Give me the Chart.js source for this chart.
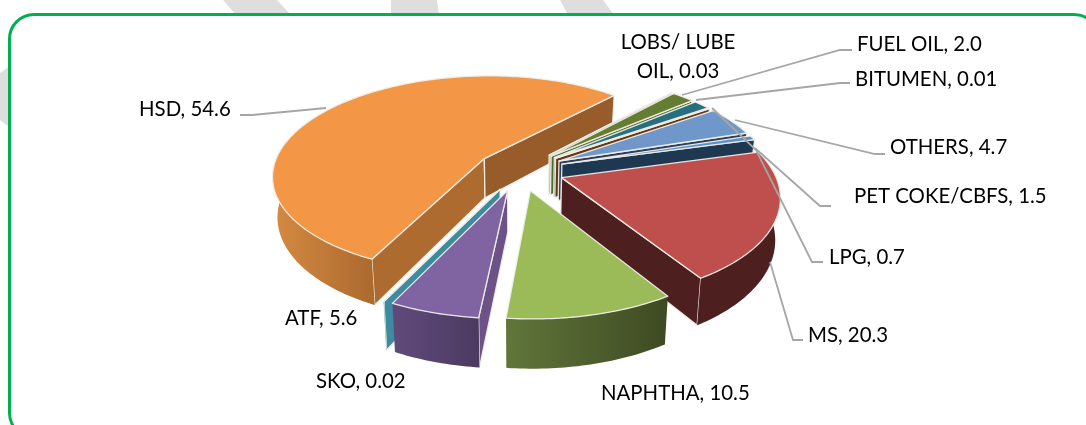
<!DOCTYPE html>
<html>
<head>
<meta charset="utf-8">
<style>
html,body{margin:0;padding:0;background:#fff;overflow:hidden}
#stage{position:relative;width:1086px;height:425px;overflow:hidden;background:#fff}
#bg{position:absolute;left:0;top:0}
#frame{position:absolute;left:8px;top:13px;width:1086px;height:420px;border:3.5px solid #00B050;border-radius:26px;background:#fff;box-sizing:content-box}
#wrap{position:absolute;left:0;top:0;width:1086px;height:425px}
</style>
</head>
<body>
<div id="stage">
<svg id="bg" width="1086" height="425">
<g fill="#DEDEDE">
<polygon points="223,0 277,0 291,15 236,15"/>
<polygon points="391,0 437,0 439,15 391,15"/>
<polygon points="560,0 603,0 614,15 568,15"/>
<polygon points="0,73 10,66 10,128 0,120"/>
</g>
</svg>
<div id="frame"></div>
<div id="wrap"><canvas id="c" width="1086" height="425"></canvas></div>
</div>
<script src="https://cdn.jsdelivr.net/npm/chart.js@4"></script>
<script>
const categories = ['HSD','LOBS/ LUBE OIL','FUEL OIL','PET COKE/CBFS','BITUMEN','OTHERS','LPG','MS','NAPHTHA','ATF','SKO'];
const values = [54.6,0.03,2.0,1.5,0.01,4.7,0.7,20.3,10.5,5.6,0.02];
const valueText = ['54.6','0.03','2.0','1.5','0.01','4.7','0.7','20.3','10.5','5.6','0.02'];
const topColors = ['#F39646','#C9C9C2','#667C33','#266E80','#7D3F12','#7097C9','#5C90CA','#BE4F4C','#9BBB59','#8064A2','#3E8A9E'];
const wallStart = ['#D68A42','#B5B5AE','#556A2A','#1F5A69','#6A350F','#2B3F5C','#1F3852','#4E1F1F','#60763A','#604A7C','#3E8A9E'];
const wallEnd = ['#AC6A2F','#B5B5AE','#556A2A','#1F5A69','#6A350F','#2B3F5C','#1F3852','#4E1F1F','#3E4A22','#4C3A60','#3E8A9E'];
const radialStart = ['#AE6B30','#B5B5AE','#556A2A','#1F5A69','#6A350F','#2B3F5C','#1F3852','#4E1F1F','#3E4A22','#6C5286','#3E8A9E'];
const radialEnd = ['#985C2A','#B5B5AE','#556A2A','#1F5A69','#6A350F','#2B3F5C','#1F3852','#4E1F1F','#3E4A22','#6C5286','#3E8A9E'];
const explodePx = [40,40,40,40,40,40,40,40,40,40,40];
const drawOrder = [0,1,2,3,4,5,6,7,10,9,8];

// label layout: lines, left x, middle y, leader path
const labelLayout = [
  {i:0, x:139, y:109, leader:[[326,108],[252,115],[240,115]]},
  {i:1, x:678, y:42, center:true, lines:['LOBS/ LUBE','OIL, 0.03'], dy:29},
  {i:2, x:857, y:44, leader:[[682,95],[840,50],[852,50]]},
  {i:3, x:854, y:196, leader:[[755,148],[820,206],[831,206]]},
  {i:4, x:855, y:79, leader:[[696,100],[840,83],[850,83]]},
  {i:5, x:890, y:147, leader:[[735,120],[875,154],[885,154]]},
  {i:6, x:829, y:257, leader:[[712,108],[756,150],[812,262],[823,262]]},
  {i:7, x:808, y:335, leader:[[770,262],[793,340],[803,340]]},
  {i:8, x:601, y:393},
  {i:9, x:285, y:318},
  {i:10, x:316, y:381}
];

// projection of the tilted disc
const view = {cx:520, cy:170, a:212, b:99.6, p:0.163, d:40, q:0.02};
function project(u, v, z) {
  const s = 1 / (1 - view.p * v);
  let x = view.cx + view.a * u * s;
  const y = view.cy + view.b * v * s + z * view.d * s;
  x = view.cx + (x - view.cx) * (1 - z * view.q);
  return [x, y];
}
function poly(ctx, pts) {
  ctx.beginPath();
  pts.forEach((p, i) => i ? ctx.lineTo(p[0], p[1]) : ctx.moveTo(p[0], p[1]));
  ctx.closePath();
}
const EDGE = 'rgba(238,238,232,0.95)';
function paint(ctx, pts, fill) {
  poly(ctx, pts);
  ctx.fillStyle = fill;
  ctx.fill();
  ctx.strokeStyle = EDGE;
  ctx.lineWidth = 1.3;
  ctx.stroke();
}
function radialWall(ctx, ou, ov, th, inner, color) {
  const R = [ou + Math.cos(th), ov + Math.sin(th)];
  const A0 = project(ou, ov, 0), E0 = project(R[0], R[1], 0);
  const I = project(ou + Math.cos(inner), ov + Math.sin(inner), 0);
  let a = A0, e = E0;
  if (e[0] < a[0]) { a = E0; e = A0; }
  const cross = (e[0]-a[0])*(I[1]-a[1]) - (e[1]-a[1])*(I[0]-a[0]);
  if (cross < 0) {
    paint(ctx, [A0, E0, project(R[0], R[1], 1), project(ou, ov, 1)], color);
  }
}
function drawSlice(ctx, arc, i) {
  const {startAngle:s0, endAngle:e0, outerRadius:R0} = arc;
  const mid = (s0 + e0) / 2;
  const off = arc.options.offset / R0;
  const ou = Math.cos(mid) * off, ov = Math.sin(mid) * off;
  const sweep = e0 - s0;
  const step = Math.PI / 180;
  const small = Math.min(2 * step, sweep / 2);
  radialWall(ctx, ou, ov, s0, s0 + small, radialStart[i]);
  radialWall(ctx, ou, ov, e0, e0 - small, radialEnd[i]);
  // outer curved wall: only its part that faces the viewer
  const top = [], bot = [];
  const n = Math.max(2, Math.ceil(sweep / step));
  for (let k = 0; k <= n; k++) {
    const th = s0 + sweep * k / n;
    if (Math.sin(th) >= -0.25) {
      top.push(project(ou + Math.cos(th), ov + Math.sin(th), 0));
      bot.push(project(ou + Math.cos(th), ov + Math.sin(th), 1));
    }
  }
  if (top.length > 1) {
    const xs = top.map(p => p[0]);
    const minX = Math.min(...xs), maxX = Math.max(...xs);
    const g = ctx.createLinearGradient(minX, 0, maxX, 0);
    g.addColorStop(0, wallStart[i]);
    g.addColorStop(1, wallEnd[i]);
    poly(ctx, top.concat(bot.reverse()));
    ctx.fillStyle = g;
    ctx.fill();
  }
  const face = [project(ou, ov, 0)];
  for (let k = 0; k <= n; k++) {
    const th = s0 + sweep * k / n;
    face.push(project(ou + Math.cos(th), ov + Math.sin(th), 0));
  }
  paint(ctx, face, topColors[i]);
}

const pie3d = {
  id: 'pie3d',
  beforeDatasetDraw(chart) {
    const ctx = chart.ctx;
    const arcs = chart.getDatasetMeta(0).data;
    ctx.save();
    ctx.lineJoin = 'round';
    drawOrder.forEach(i => drawSlice(ctx, arcs[i], i));
    ctx.restore();
    return false;
  },
  afterDatasetsDraw(chart) {
    const ctx = chart.ctx;
    ctx.save();
    ctx.strokeStyle = '#A6A6A6';
    ctx.lineWidth = 1.8;
    labelLayout.forEach(l => {
      if (!l.leader) return;
      ctx.beginPath();
      l.leader.forEach((p, k) => k ? ctx.lineTo(p[0], p[1]) : ctx.moveTo(p[0], p[1]));
      ctx.stroke();
    });
    ctx.fillStyle = '#000';
    ctx.font = '20.4px Lato, Carlito, sans-serif';
    ctx.textBaseline = 'middle';
    labelLayout.forEach(l => {
      if (l.lines) {
        ctx.textAlign = 'center';
        l.lines.forEach((t, k) => ctx.fillText(t, l.x, l.y + k * l.dy));
      } else {
        ctx.textAlign = 'left';
        ctx.fillText(categories[l.i] + ', ' + valueText[l.i], l.x, l.y);
      }
    });
    ctx.restore();
  }
};

new Chart(document.getElementById('c'), {
  type: 'pie',
  data: { labels: categories, datasets: [{ data: values, backgroundColor: topColors, offset: explodePx, borderWidth: 0 }] },
  options: {
    responsive: false,
    animation: false,
    rotation: 206,
    layout: { padding: 0 },
    plugins: { legend: { display: false }, tooltip: { enabled: false } }
  },
  plugins: [pie3d]
});
</script>
</body>
</html>
